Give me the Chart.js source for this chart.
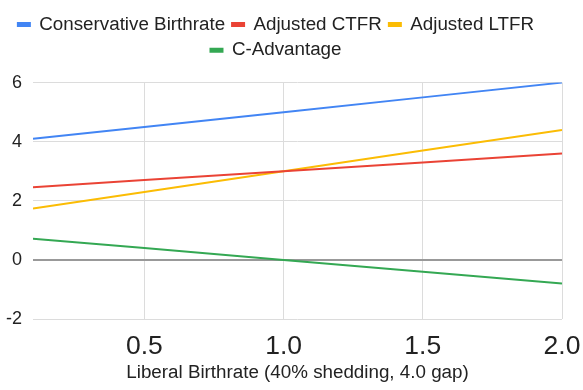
<!DOCTYPE html>
<html>
<head>
<meta charset="utf-8">
<script src="https://cdn.jsdelivr.net/npm/chart.js@4"></script>
<style>
  html, body { margin: 0; padding: 0; background: #fff; }
  #wrap { width: 583px; height: 390px; }
</style>
</head>
<body>
<div id="wrap"><canvas id="chart"></canvas></div>
<script>
const liberalRate = [0.1, 0.5, 1.0, 1.5, 2.0];
const conservative = [4.1, 4.5, 5.0, 5.5, 6.0];
const adjustedCTFR = [2.46, 2.7, 3.0, 3.3, 3.6];
const adjustedLTFR = [1.74, 2.3, 3.0, 3.7, 4.4];
const cAdvantage = [0.72, 0.4, 0.0, -0.4, -0.8];
const xTicks = [0.5, 1.0, 1.5, 2.0];
const yTicks = [-2, 0, 2, 4, 6];

const FONT = "Arial, 'Liberation Sans', sans-serif";

function points(values) {
    return liberalRate.map((x, i) => ({ x: x, y: values[i] }));
}

function series(label, values, color) {
    return {
        label: label,
        data: points(values),
        borderColor: color,
        backgroundColor: color,
        borderWidth: 2,
        pointRadius: 0,
        tension: 0
    };
}

// extra room under the legend, and legend rows centred a bit left like the original
const legendTweak = {
    id: "legendTweak",
    beforeInit(chart) {
        const origFit = chart.legend.fit;
        chart.legend.fit = function () {
            origFit.bind(chart.legend)();
            this.height += 13;
        };
    },
    afterLayout(chart) {
        chart.legend.right -= 34;
    }
};

const ctx = document.getElementById("chart").getContext("2d");
new Chart(ctx, {
    type: "line",
    data: {
        datasets: [
            series("Conservative Birthrate", conservative, "#4285f4"),
            series("Adjusted CTFR", adjustedCTFR, "#ea4335"),
            series("Adjusted LTFR", adjustedLTFR, "#fbbc04"),
            series("C-Advantage", cAdvantage, "#34a853")
        ]
    },
    plugins: [legendTweak],
    options: {
        responsive: true,
        maintainAspectRatio: false,
        animation: false,
        layout: { padding: { left: 6, right: 3, top: 8, bottom: 6 } },
        plugins: {
            legend: {
                position: "top",
                labels: {
                    color: "#222",
                    font: { family: FONT, size: 18.8 },
                    boxWidth: 12,
                    boxHeight: 3,
                    padding: 7
                }
            },
            tooltip: { enabled: false }
        },
        scales: {
            x: {
                type: "linear",
                min: 0.1,
                max: 2.0,
                afterBuildTicks: axis => {
                    axis.ticks = xTicks.map(v => ({ value: v }));
                },
                afterFit: axis => {
                    axis.height = 65;
                    axis.paddingRight = 21;
                },
                ticks: {
                    color: "#222",
                    font: { family: FONT, size: 26.5 },
                    maxRotation: 0,
                    padding: 12,
                    callback: v => Number(v).toFixed(1)
                },
                grid: { color: "#dcdcdc", drawTicks: false },
                border: { display: false },
                title: {
                    display: true,
                    text: "Liberal Birthrate (40% shedding, 4.0 gap)",
                    color: "#222",
                    font: { family: FONT, size: 18.8 },
                    padding: { top: 0, bottom: 0 }
                }
            },
            y: {
                min: -2,
                max: 6,
                afterBuildTicks: axis => {
                    axis.ticks = yTicks.map(v => ({ value: v }));
                },
                afterFit: axis => {
                    axis.width = 27;
                },
                ticks: {
                    color: "#222",
                    font: { family: FONT, size: 18 },
                    padding: 11
                },
                grid: {
                    drawTicks: false,
                    color: c => c.tick && c.tick.value === 0 ? "#999" : "#dcdcdc",
                    lineWidth: c => c.tick && c.tick.value === 0 ? 2 : 1
                },
                border: { display: false }
            }
        }
    }
});
</script>
</body>
</html>
